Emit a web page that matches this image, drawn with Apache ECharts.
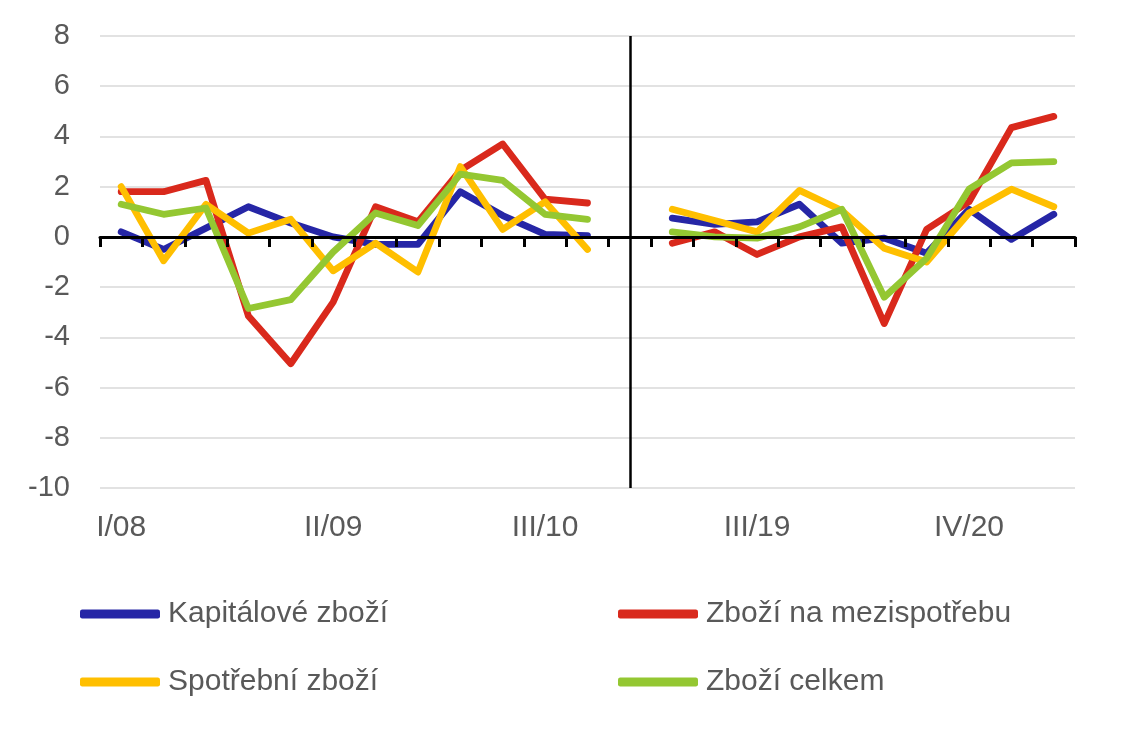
<!DOCTYPE html>
<html>
<head>
<meta charset="utf-8">
<script src="https://cdn.jsdelivr.net/npm/echarts@6/dist/echarts.min.js"></script>
<style>
html,body{margin:0;padding:0;background:#fff;}
#chart{width:1124px;height:733px;}
</style>
</head>
<body>
<div id="chart"></div>
<script>
const categories = ['I/08','II/08','III/08','IV/08','I/09','II/09','III/09','IV/09','I/10','II/10','III/10','IV/10','',
  'I/19','II/19','III/19','IV/19','I/20','II/20','III/20','IV/20','I/21','II/21'];
const gapCategory = '';
const yTicks = { min: -10, max: 8, interval: 2 };

const kapitalove = [0.2, -0.5, 0.35, 1.2, 0.55, 0.0, -0.3, -0.3, 1.8, 0.85, 0.1, 0.05, null,
  0.75, 0.5, 0.6, 1.3, -0.25, -0.05, -0.65, 1.1, -0.1, 0.9];
const mezispotreba = [1.8, 1.8, 2.25, -3.15, -5.05, -2.6, 1.2, 0.6, 2.65, 3.7, 1.5, 1.35, null,
  -0.25, 0.2, -0.7, 0.0, 0.4, -3.45, 0.3, 1.4, 4.35, 4.8];
const spotrebni = [2.0, -0.95, 1.3, 0.15, 0.7, -1.35, -0.25, -1.4, 2.8, 0.3, 1.4, -0.5, null,
  1.1, 0.65, 0.2, 1.85, 1.05, -0.45, -1.0, 0.95, 1.9, 1.2];
const celkem = [1.3, 0.9, 1.15, -2.85, -2.5, -0.6, 0.95, 0.45, 2.5, 2.25, 0.9, 0.7, null,
  0.2, 0.0, -0.05, 0.4, 1.1, -2.4, -0.85, 1.9, 2.95, 3.0];

const seriesNames = ['Kapitálové zboží', 'Zboží na mezispotřebu', 'Spotřební zboží', 'Zboží celkem'];
const seriesColors = ['#2626a6', '#d9291c', '#ffbf00', '#94c732'];
const seriesData = [kapitalove, mezispotreba, spotrebni, celkem];

const FONT = '"Liberation Sans", Arial, sans-serif';
const TEXT = '#595959';

const chart = echarts.init(document.getElementById('chart'));

const series = seriesData.map((d, i) => ({
  name: seriesNames[i],
  type: 'line',
  data: d,
  xAxisIndex: 0,
  yAxisIndex: 0,
  symbol: 'none',
  connectNulls: false,
  animation: false,
  lineStyle: { color: seriesColors[i], width: 6.8, cap: 'round', join: 'round' },
  itemStyle: { color: seriesColors[i] },
  z: 3 + i
}));
series[0].markLine = {
  silent: true,
  symbol: ['none', 'none'],
  label: { show: false },
  animation: false,
  lineStyle: { color: '#000', width: 2.5, type: 'solid' },
  data: [{ xAxis: gapCategory }]
};

const legendCommon = {
  orient: 'vertical',
  top: 599,
  padding: 0,
  itemWidth: 80,
  itemHeight: 9,
  itemGap: 38,
  icon: 'roundRect',
  textStyle: { fontFamily: FONT, fontSize: 30, color: TEXT, padding: [0, 0, 0, 3] },
  selectedMode: false
};

chart.setOption({
  animation: false,
  backgroundColor: '#fff',
  grid: { left: 100, right: 49, top: 36, bottom: 245 },
  legend: [
    Object.assign({}, legendCommon, { left: 80, data: [seriesNames[0], seriesNames[2]] }),
    Object.assign({}, legendCommon, { left: 618, data: [seriesNames[1], seriesNames[3]] })
  ],
  xAxis: [
    {
      type: 'category',
      data: categories,
      boundaryGap: true,
      axisLine: { show: true, onZero: true, lineStyle: { color: '#000', width: 3 } },
      axisTick: { show: true, interval: 0, length: 10, lineStyle: { color: '#000', width: 3 } },
      axisLabel: { show: false },
      splitLine: { show: false },
      z: 10
    },
    {
      type: 'category',
      data: categories,
      position: 'bottom',
      boundaryGap: true,
      axisLine: { show: false, onZero: false },
      axisTick: { show: false },
      axisLabel: { show: true, interval: 4, margin: 25, fontFamily: FONT, fontSize: 30, color: TEXT },
      splitLine: { show: false }
    }
  ],
  yAxis: {
    type: 'value',
    min: yTicks.min,
    max: yTicks.max,
    interval: yTicks.interval,
    axisLine: { show: false },
    axisTick: { show: false },
    axisLabel: { margin: 30, fontFamily: FONT, fontSize: 29, color: TEXT },
    splitLine: { show: true, lineStyle: { color: '#d9d9d9', width: 1.5 } }
  },
  series: series
});
</script>
</body>
</html>
